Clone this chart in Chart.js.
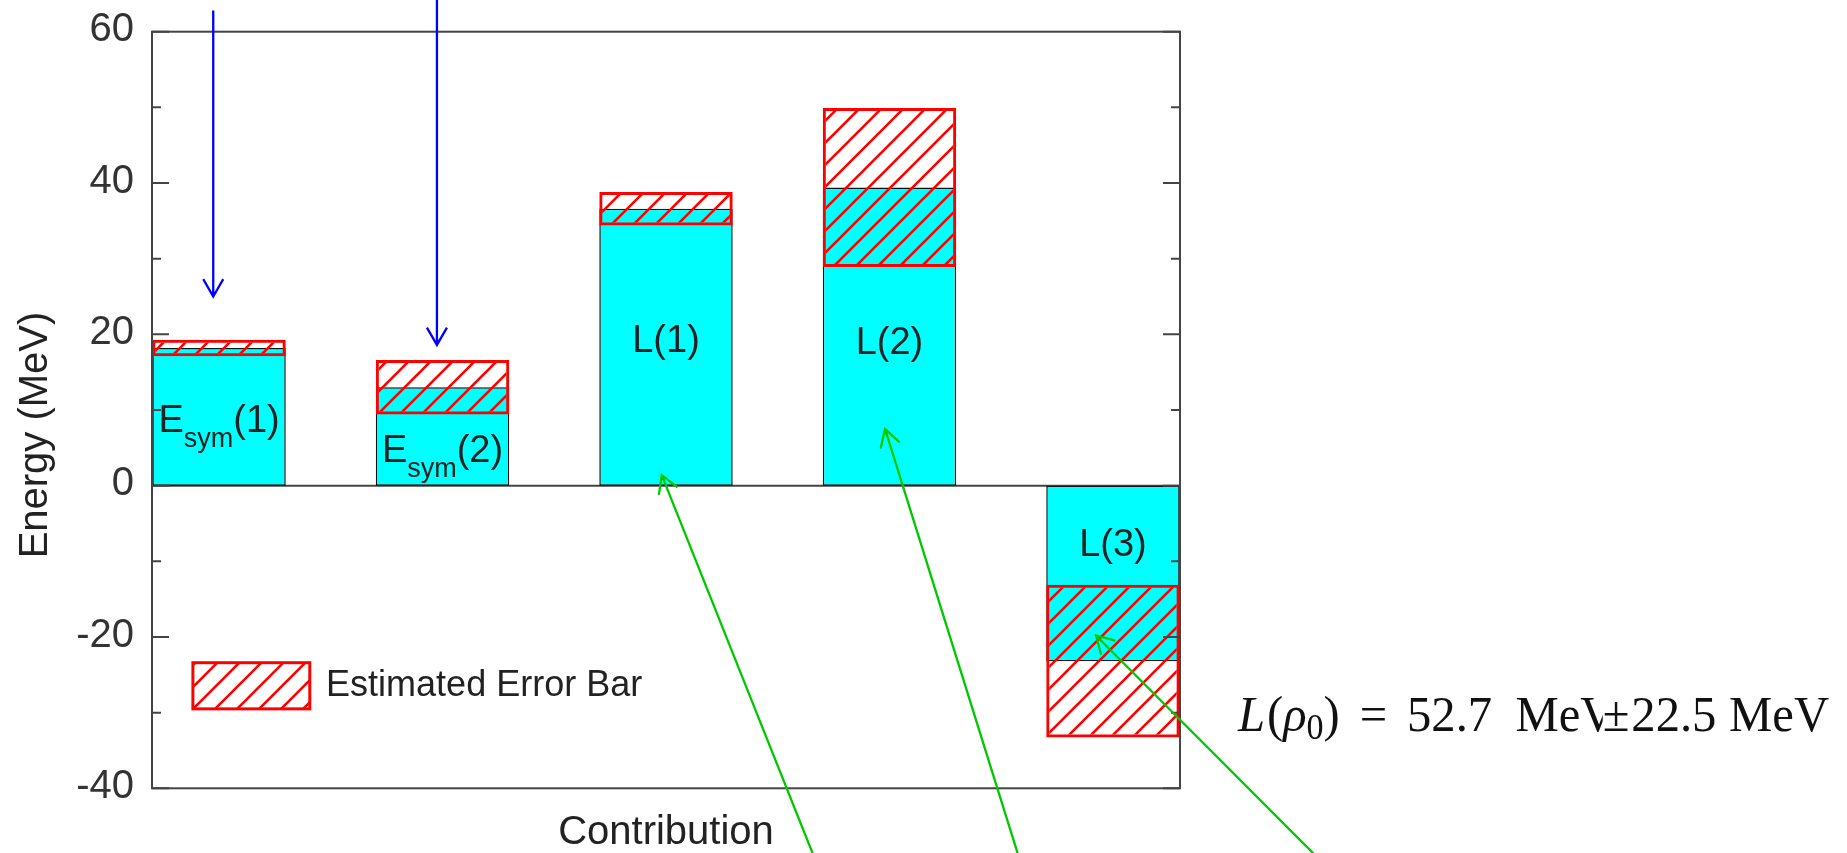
<!DOCTYPE html>
<html>
<head>
<meta charset="utf-8">
<title>Energy contributions</title>
<script src="https://cdn.jsdelivr.net/npm/chart.js@4.4.1/dist/chart.umd.min.js"></script>
<style>
  html, body { margin: 0; padding: 0; background: #ffffff; overflow: hidden; }
  canvas { display: block; }
</style>
</head>
<body>
<canvas id="chart" width="1847" height="853"></canvas>
<script>
// Contributions to the symmetry energy and its slope (MeV)
const categories = ['Esym(1)', 'Esym(2)', 'L(1)', 'L(2)', 'L(3)'];
const centralValues = [18.2, 13.0, 36.6, 39.4, -23.2];
const errorHalfWidths = [1.1, 3.6, 2.2, 10.5, 10.1];
const yMajorTicks = [-40, -20, 0, 20, 40, 60];
const yMinorTicks = [-30, -10, 10, 30, 50];
const totalL = '52.7';
const totalLError = '22.5';

const SANS = '"Liberation Sans", Arial, Helvetica, sans-serif';
const SERIF = '"Liberation Serif", "Times New Roman", serif';
const FRAME = '#444444';
const INK = '#222222';

const positions = categories.map((_, i) => i + 1);

const canvas = document.getElementById('chart');
const mainCtx = canvas.getContext('2d');

// Red "/" hatch used for the error boxes and the legend swatch
function makeHatch() {
  const s = 22;
  const tile = document.createElement('canvas');
  tile.width = s; tile.height = s;
  const g = tile.getContext('2d');
  g.strokeStyle = '#ff0000';
  g.lineWidth = 2.6;
  g.beginPath();
  g.moveTo(-s, s); g.lineTo(s, -s);
  g.moveTo(0, 2 * s); g.lineTo(2 * s, 0);
  g.moveTo(0, s); g.lineTo(s, 0);
  g.stroke();
  return mainCtx.createPattern(tile, 'repeat');
}
const hatch = makeHatch();

function drawArrow(ctx, x1, y1, x2, y2, color) {
  const ang = Math.atan2(y2 - y1, x2 - x1);
  const head = 20, spread = Math.PI / 6;
  ctx.save();
  ctx.strokeStyle = color;
  ctx.lineWidth = 2.3;
  ctx.beginPath();
  ctx.moveTo(x1, y1); ctx.lineTo(x2, y2);
  ctx.moveTo(x2 - head * Math.cos(ang - spread), y2 - head * Math.sin(ang - spread));
  ctx.lineTo(x2, y2);
  ctx.lineTo(x2 - head * Math.cos(ang + spread), y2 - head * Math.sin(ang + spread));
  ctx.stroke();
  ctx.restore();
}

const decor = {
  id: 'decor',
  beforeDatasetsDraw(chart) {
    const { ctx, chartArea: a, scales: { y } } = chart;
    const y0 = y.getPixelForValue(0);
    ctx.save();
    ctx.strokeStyle = FRAME;
    ctx.lineWidth = 2;
    ctx.beginPath(); ctx.moveTo(a.left, y0); ctx.lineTo(a.right, y0); ctx.stroke();
    ctx.restore();
  },
  afterDatasetsDraw(chart) {
    const { ctx, chartArea: a, scales: { y } } = chart;
    ctx.save();
    ctx.strokeStyle = FRAME;
    ctx.lineWidth = 2;
    ctx.strokeRect(a.left, a.top, a.right - a.left, a.bottom - a.top);
    ctx.beginPath();
    const tick = (v, len) => {
      const p = y.getPixelForValue(v);
      ctx.moveTo(a.left, p); ctx.lineTo(a.left + len, p);
      ctx.moveTo(a.right, p); ctx.lineTo(a.right - len, p);
    };
    yMajorTicks.forEach(v => tick(v, 17));
    yMinorTicks.forEach(v => tick(v, 9));
    ctx.stroke();
    ctx.restore();
  },
  afterDraw(chart, args, opts) {
    const { ctx, scales: { x, y } } = chart;
    ctx.save();
    ctx.fillStyle = INK;
    ctx.textBaseline = 'alphabetic';

    // bar names inside the bars
    opts.barNames.forEach((nm, i) => {
      const cx = x.getPixelForValue(positions[i]);
      const by = y.getPixelForValue(opts.nameBaselines[i]);
      const mainFont = `38px ${SANS}`, subFont = `27px ${SANS}`;
      ctx.font = mainFont; const w1 = ctx.measureText(nm.main).width;
      ctx.font = subFont; const w2 = nm.sub ? ctx.measureText(nm.sub).width : 0;
      ctx.font = mainFont; const w3 = ctx.measureText(nm.tail).width;
      let px = cx - (w1 + w2 + w3) / 2;
      ctx.textAlign = 'left';
      ctx.font = mainFont; ctx.fillText(nm.main, px, by); px += w1;
      if (nm.sub) { ctx.font = subFont; ctx.fillText(nm.sub, px, by + 15); px += w2; }
      ctx.font = mainFont; ctx.fillText(nm.tail, px, by);
    });

    // y axis title
    ctx.save();
    ctx.translate(opts.yTitle.x, opts.yTitle.y);
    ctx.rotate(-Math.PI / 2);
    ctx.font = `40px ${SANS}`;
    ctx.textAlign = 'center';
    ctx.fillText('Energy (MeV)', 0, 0);
    ctx.restore();

    // legend swatch
    const lg = opts.legend;
    const lx1 = x.getPixelForValue(lg.x1), lx2 = x.getPixelForValue(lg.x2);
    const ly1 = y.getPixelForValue(lg.y1), ly2 = y.getPixelForValue(lg.y2);
    ctx.fillStyle = hatch;
    ctx.fillRect(lx1, ly1, lx2 - lx1, ly2 - ly1);
    ctx.strokeStyle = '#ff0000';
    ctx.lineWidth = 3;
    ctx.strokeRect(lx1, ly1, lx2 - lx1, ly2 - ly1);
    ctx.fillStyle = INK;
    ctx.font = `36px ${SANS}`;
    ctx.textAlign = 'left';
    ctx.fillText('Estimated Error Bar', x.getPixelForValue(lg.textX), y.getPixelForValue(lg.textY));

    // pointer arrows
    opts.arrows.forEach(ar => {
      drawArrow(ctx,
        x.getPixelForValue(ar.from[0]), y.getPixelForValue(ar.from[1]),
        x.getPixelForValue(ar.to[0]), y.getPixelForValue(ar.to[1]), ar.color);
    });

    // total slope formula
    const f = opts.formula;
    const size = 50;
    const up = `${size}px ${SERIF}`, it = `italic ${size}px ${SERIF}`, sm = `${Math.round(size * 0.7)}px ${SERIF}`;
    const pieces = [
      { t: 'L', font: it },
      { t: '(', font: up, gap: 2 },
      { t: 'ρ', font: it },
      { t: '0', font: sm, dy: 8 },
      { t: ')', font: up },
      { t: ' = ', font: up, gap: 8 },
      { t: totalL, font: up, gap: 8 },
      { t: 'MeV', font: up, gap: 24 },
      { t: '±', font: up, gap: -13, cover: true },
      { t: totalLError, font: up, gap: 2 },
      { t: 'MeV', font: up, gap: 13 }
    ];
    let total = 0;
    pieces.forEach(p => { ctx.font = p.font; p.w = ctx.measureText(p.t).width; total += (p.gap || 0) + p.w; });
    const sx = f.width / total;
    ctx.save();
    ctx.translate(f.x, f.y);
    ctx.scale(sx, 1);
    let px = 0;
    pieces.forEach(p => {
      px += p.gap || 0;
      ctx.font = p.font;
      if (p.cover) {
        ctx.fillStyle = '#ffffff';
        ctx.fillRect(px, -size * 0.8, p.w + 2, size);
      }
      ctx.fillStyle = '#111111';
      ctx.fillText(p.t, px, p.dy || 0);
      px += p.w;
    });
    ctx.restore();

    ctx.restore();
  }
};

new Chart(canvas, {
  type: 'bar',
  data: {
    datasets: [
      {
        label: 'Estimated Error Bar',
        data: positions.map((p, i) => ({ x: p, y: [centralValues[i] - errorHalfWidths[i], centralValues[i] + errorHalfWidths[i]] })),
        backgroundColor: hatch,
        borderColor: '#ff0000',
        borderWidth: 3,
        borderSkipped: false,
        order: 0
      },
      {
        label: 'Contribution',
        data: positions.map((p, i) => ({ x: p, y: [0, centralValues[i]] })),
        backgroundColor: '#00ffff',
        borderColor: '#111111',
        borderWidth: 1.5,
        borderSkipped: false,
        order: 1
      }
    ]
  },
  options: {
    responsive: false,
    devicePixelRatio: 1,
    animation: false,
    grouped: false,
    categoryPercentage: 1,
    barPercentage: 0.597,
    layout: { padding: { top: 31.7, right: 667, bottom: 0, left: 0 } },
    scales: {
      x: {
        type: 'linear',
        min: 0.7,
        max: 5.3,
        offset: false,
        afterBuildTicks: s => { s.ticks = positions.map(v => ({ value: v })); },
        afterFit: s => { s.height = 64.7; s.paddingLeft = 0; s.paddingRight = 0; },
        grid: { display: false, drawTicks: false },
        border: { display: false },
        ticks: { display: false },
        title: {
          display: true,
          text: 'Contribution',
          color: INK,
          font: { family: SANS, size: 40, lineHeight: 1 },
          padding: 0
        }
      },
      y: {
        type: 'linear',
        min: -40,
        max: 60,
        afterBuildTicks: s => { s.ticks = yMajorTicks.map(v => ({ value: v })); },
        afterFit: s => { s.width = 152; s.paddingTop = 0; s.paddingBottom = 0; },
        grid: { display: false, drawTicks: false },
        border: { display: false },
        ticks: {
          color: '#333333',
          font: { family: SANS, size: 40 },
          padding: 18,
          labelOffset: -1.5
        }
      }
    },
    plugins: {
      legend: { display: false },
      tooltip: { enabled: false },
      decor: {
        barNames: [
          { main: 'E', sub: 'sym', tail: '(1)' },
          { main: 'E', sub: 'sym', tail: '(2)' },
          { main: 'L', tail: '(1)' },
          { main: 'L', tail: '(2)' },
          { main: 'L', tail: '(3)' }
        ],
        nameBaselines: [7.1, 3.1, 17.6, 17.4, -9.3],
        yTitle: { x: 46.7, y: 435 },
        legend: { x1: 0.883, x2: 1.406, y1: -23.4, y2: -29.5, textX: 1.479, textY: -27.8 },
        arrows: [
          { color: '#0000ff', from: [0.974, 62.8], to: [0.974, 25.0] },
          { color: '#0000ff', from: [1.975, 64.5], to: [1.975, 18.6] },
          { color: '#00c800', from: [3.686, -50.8], to: [2.981, 1.4] },
          { color: '#00c800', from: [4.597, -50.8], to: [3.980, 7.5] },
          { color: '#00c800', from: [5.971, -50.8], to: [4.924, -19.8] }
        ],
        formula: { x: 1238, y: 731, width: 591 }
      }
    }
  },
  plugins: [decor]
});
</script>
</body>
</html>
